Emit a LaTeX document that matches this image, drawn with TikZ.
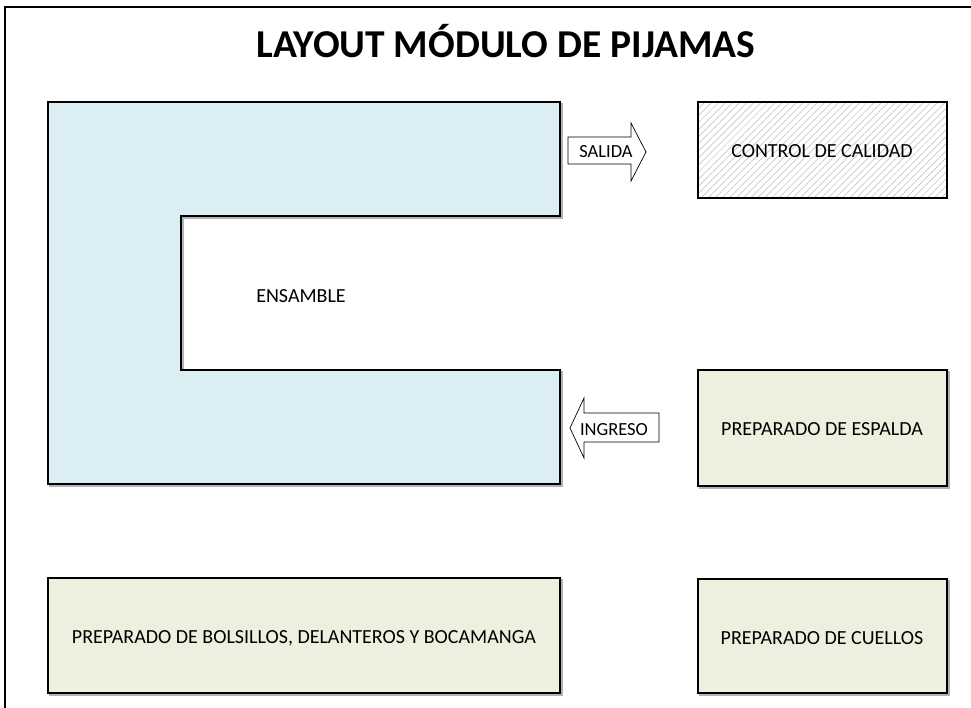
\documentclass[tikz,border=0pt]{standalone}
\usepackage{fontspec}
\setmainfont{Carlito}
\usetikzlibrary{patterns.meta}
\definecolor{azulclaro}{HTML}{DAEEF3}
\definecolor{verdeclaro}{HTML}{EBF1DE}
\tikzset{
 area/.style={draw=black,line width=1.7pt},
 sombra/.style={draw=gray!60,line width=1.7pt},
 flecha/.style={draw=black,line width=0.7pt,fill=white},
 rotulo/.style={anchor=base,inner sep=0pt,font=\fontsize{20}{22}\selectfont},
 rotuloflecha/.style={anchor=base,inner sep=0pt,font=\fontsize{18.5}{20}\selectfont}
}
\begin{document}
\begin{tikzpicture}[x=1pt,y=-1pt]
 \useasboundingbox (0,0) rectangle (971,708);
 \draw[line width=2.5pt](5,715)--(5,7)--(980,7);
 \node[anchor=base,inner sep=0pt,font=\bfseries\fontsize{39.5}{44}\selectfont] (titulo) at (506,58) {LAYOUT MÓDULO DE PIJAMAS};
 \draw[sombra,shift={(2,2)}](48,102)--(560,102)--(560,216)--(181,216)--(181,370)--(560,370)--(560,484)--(48,484)--cycle;
 \draw[area,fill=azulclaro](48,102)--(560,102)--(560,216)--(181,216)--(181,370)--(560,370)--(560,484)--(48,484)--cycle;
 \node[rotulo] (ensamble) at (301,303) {ENSAMBLE};
 \draw[area,pattern={Lines[angle=45,distance=5pt,line width=0.5pt]},pattern color=gray!55](698,102) rectangle (947,198);
 \node[rotulo] (calidad) at (822,158) {CONTROL DE CALIDAD};
 \draw[sombra](700,372) rectangle (949,488);
 \draw[area,fill=verdeclaro](698,370) rectangle (947,486);
 \node[rotulo] (espalda) at (822,435) {PREPARADO DE ESPALDA};
 \draw[sombra](50,580) rectangle (562,695);
 \draw[area,fill=verdeclaro](48,578) rectangle (560,693);
 \node[rotulo] (bolsillos) at (304,643) {PREPARADO DE BOLSILLOS, DELANTEROS Y BOCAMANGA};
 \draw[sombra](700,581) rectangle (949,695);
 \draw[area,fill=verdeclaro](698,579) rectangle (947,693);
 \node[rotulo] (cuellos) at (822,644) {PREPARADO DE CUELLOS};
 \draw[flecha](568,137)--(631,137)--(631,123)--(646,152)--(631,181)--(631,164)--(568,164)--cycle;
 \node[rotuloflecha] (salida) at (606,158) {SALIDA};
 \draw[flecha](659,413)--(584,413)--(584,398)--(570,428)--(584,458)--(584,442)--(659,442)--cycle;
 \node[rotuloflecha] (ingreso) at (614,435) {INGRESO};
\end{tikzpicture}
\end{document}
